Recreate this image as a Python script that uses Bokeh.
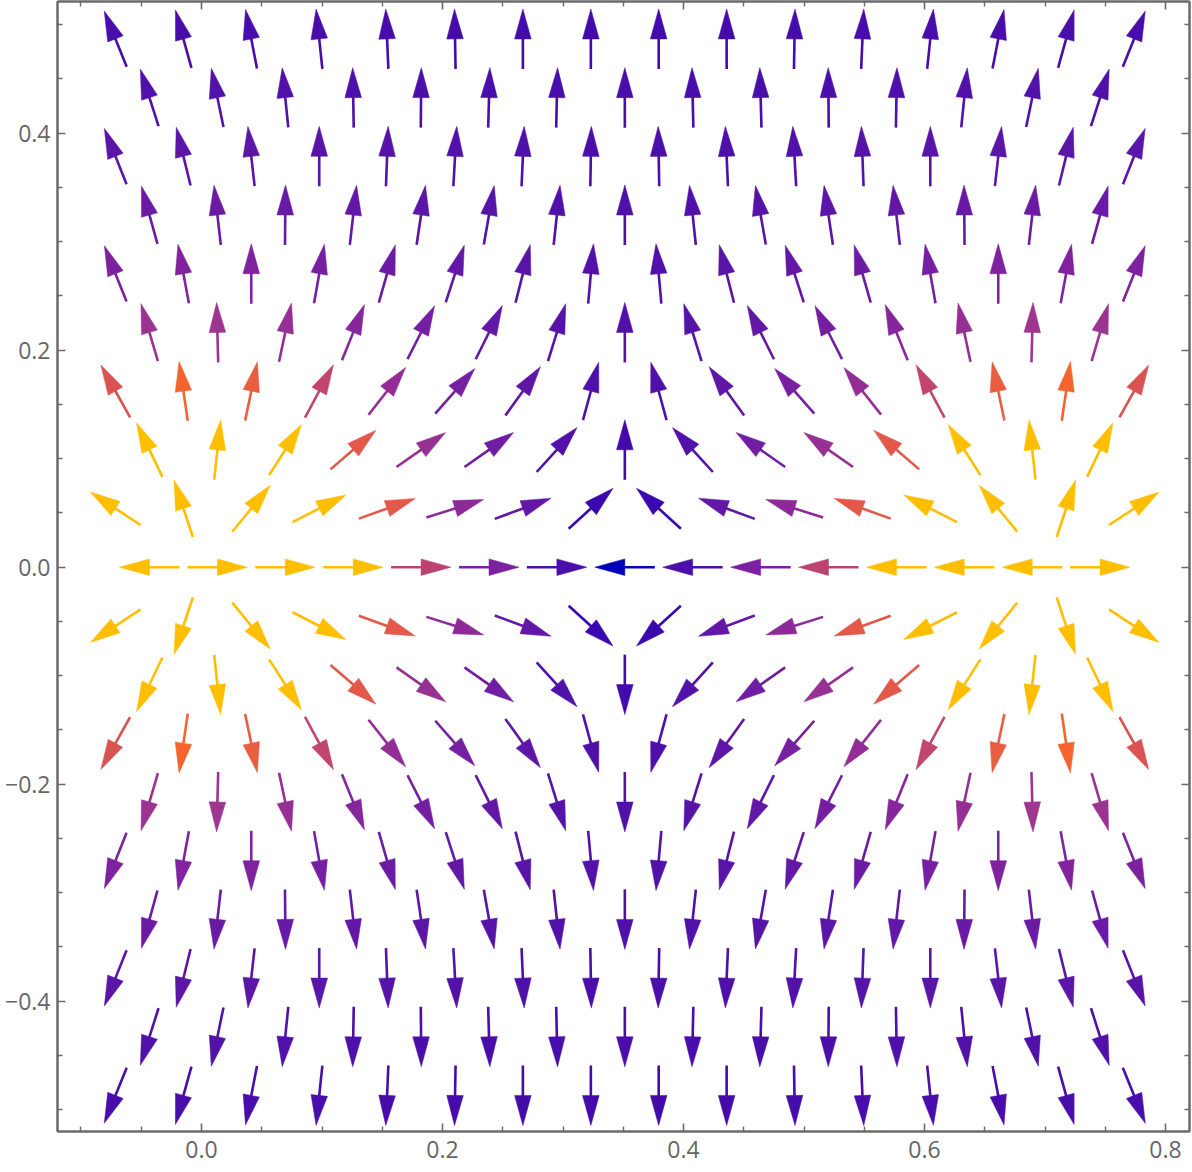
import math
from bokeh.plotting import figure
from bokeh.models import Range1d, FixedTicker, LinearAxis, ColumnDataSource, LinearColorMapper
from bokeh.transform import transform
from bokeh.embed import file_html
from bokeh.resources import INLINE

# ---------------- data ----------------
# arrow centres: staggered (hexagonal) grid
X_EVEN = [-0.0432, 0.0132, 0.0695, 0.1259, 0.1822, 0.2386, 0.2949, 0.3513,
          0.4076, 0.4640, 0.5203, 0.5767, 0.6330, 0.6894, 0.7457]
X_ODD = [-0.0714, -0.0150, 0.0413, 0.0977, 0.1540, 0.2104, 0.2667, 0.3231,
         0.3794, 0.4358, 0.4921, 0.5485, 0.6048, 0.6612, 0.7175, 0.7739]
ROW_Y = [0.4869, 0.4328, 0.3787, 0.3246, 0.2705, 0.2164, 0.1623, 0.1082, 0.0541, 0.0,
         -0.0541, -0.1082, -0.1623, -0.2164, -0.2705, -0.3246, -0.3787, -0.4328, -0.4869]

# arrow directions (degrees, screen orientation), one list per row, top to bottom
ANGLE_ROWS = [
    [112, 105.5, 101, 96, 92.5, 91, 90, 90, 90, 90, 89, 87.5, 84, 79, 74.5, 68],
    [107.7, 101.7, 95.8, 91, 89.5, 88.4, 88.7, 90, 91.3, 91.6, 90.5, 89, 84.2, 78.3, 72.3],
    [111.7, 103.8, 96.4, 90, 87.9, 86.8, 87.5, 89, 91, 92.5, 93.2, 92.1, 90, 83.6, 76.2, 68.3],
    [105.5, 96.5, 89.5, 83.5, 81.5, 80, 83.9, 90, 96.1, 100, 98.5, 96.5, 90.5, 83.5, 74.5],
    [111.7, 100.5, 90, 80, 74, 72, 75.8, 84.9, 95.1, 104.2, 108, 106, 100, 90, 79.5, 68.3],
    [106.4, 91.5, 78, 68, 63.2, 63.6, 72.8, 90, 107.2, 116.4, 116.8, 112, 102, 88.5, 73.6],
    [119.2, 98.3, 78.2, 61.7, 51.8, 48.7, 54.3, 74.8, 105.2, 125.7, 131.3, 128.3, 118.3, 101.8, 81.7, 60.8],
    [115.6, 83.8, 57.4, 40.7, 35, 35.1, 47.7, 90, 132.3, 144.9, 145, 139.3, 122.6, 96.2, 64.4],
    [146.6, 108.3, 50.7, 27, 19.7, 17.5, 20.2, 42.3, 137.7, 159.8, 162.5, 160.3, 153, 129.3, 71.7, 33.4],
    [180, 0, 0, 0, 0, 0, 0, 180, 180, 180, 180, 180, 180, 180, 0],
    [-146.6, -108.3, -50.7, -27, -19.7, -17.5, -20.2, -42.3, -137.7, -159.8, -162.5, -160.3, -153, -129.3, -71.7, -33.4],
    [-115.6, -83.8, -57.4, -40.7, -35, -35.1, -47.7, -90, -132.3, -144.9, -145, -139.3, -122.6, -96.2, -64.4],
    [-119.2, -98.3, -78.2, -61.7, -51.8, -48.7, -54.3, -74.8, -105.2, -125.7, -131.3, -128.3, -118.3, -101.8, -81.7, -60.8],
    [-106.4, -91.5, -78, -68, -63.2, -63.6, -72.8, -90, -107.2, -116.4, -116.8, -112, -102, -88.5, -73.6],
    [-111.7, -100.5, -90, -80, -74, -72, -75.8, -84.9, -95.1, -104.2, -108, -106, -100, -90, -79.5, -68.3],
    [-105.5, -96.5, -89.5, -83.5, -81.5, -80, -83.9, -90, -96.1, -100, -98.5, -96.5, -90.5, -83.5, -74.5],
    [-111.7, -103.8, -96.4, -90, -87.9, -86.8, -87.5, -89, -91, -92.5, -93.2, -92.1, -90, -83.6, -76.2, -68.3],
    [-107.7, -101.7, -95.8, -91, -89.5, -88.4, -88.7, -90, -91.3, -91.6, -90.5, -89, -84.2, -78.3, -72.3],
    [-112, -105.5, -101, -96, -92.5, -91, -90, -90, -90, -90, -89, -87.5, -84, -79, -74.5, -68],
]

# field strength (saturated yellow = strong)
STRENGTH_ROWS = [
    [5.0, 5.1, 5.1, 5.1, 4.9, 4.7, 4.6, 4.5, 4.5, 4.6, 4.7, 4.9, 5.1, 5.1, 5.1, 5.0],
    [6.2, 6.3, 6.1, 5.9, 5.6, 5.3, 5.1, 5.0, 5.1, 5.3, 5.6, 5.9, 6.1, 6.3, 6.2],
    [7.6, 7.8, 7.8, 7.4, 6.9, 6.3, 5.8, 5.6, 5.6, 5.8, 6.3, 6.9, 7.4, 7.8, 7.8, 7.6],
    [10.2, 10.3, 9.8, 8.9, 7.8, 6.9, 6.2, 6.0, 6.2, 6.9, 7.8, 8.9, 9.8, 10.3, 10.2],
    [13.7, 14.4, 14.0, 12.5, 10.5, 8.6, 7.2, 6.4, 6.4, 7.2, 8.6, 10.5, 12.5, 14.0, 14.4, 13.7],
    [21.4, 21.8, 19.5, 15.7, 11.9, 8.9, 6.9, 6.2, 6.9, 8.9, 11.9, 15.7, 19.5, 21.8, 21.4],
    [32.8, 38.3, 35.7, 27.3, 18.8, 12.5, 8.2, 6.0, 6.0, 8.2, 12.5, 18.8, 27.3, 35.7, 38.3, 32.8],
    [74, 84, 60, 34.5, 19.8, 11.4, 6.4, 4.4, 6.4, 11.4, 19.8, 34.5, 60, 84, 74],
    [125, 317, 216, 80, 34.5, 17.4, 8.7, 3.5, 3.5, 8.7, 17.4, 34.5, 80, 216, 317, 125],
    [536, 999, 207, 60, 26.4, 13.0, 5.4, 0.1, 5.4, 13.0, 26.4, 60, 207, 999, 536],
    [125, 317, 216, 80, 34.5, 17.4, 8.7, 3.5, 3.5, 8.7, 17.4, 34.5, 80, 216, 317, 125],
    [74, 84, 60, 34.5, 19.8, 11.4, 6.4, 4.4, 6.4, 11.4, 19.8, 34.5, 60, 84, 74],
    [32.8, 38.3, 35.7, 27.3, 18.8, 12.5, 8.2, 6.0, 6.0, 8.2, 12.5, 18.8, 27.3, 35.7, 38.3, 32.8],
    [21.4, 21.8, 19.5, 15.7, 11.9, 8.9, 6.9, 6.2, 6.9, 8.9, 11.9, 15.7, 19.5, 21.8, 21.4],
    [13.7, 14.4, 14.0, 12.5, 10.5, 8.6, 7.2, 6.4, 6.4, 7.2, 8.6, 10.5, 12.5, 14.0, 14.4, 13.7],
    [10.2, 10.3, 9.8, 8.9, 7.8, 6.9, 6.2, 6.0, 6.2, 6.9, 7.8, 8.9, 9.8, 10.3, 10.2],
    [7.6, 7.8, 7.8, 7.4, 6.9, 6.3, 5.8, 5.6, 5.6, 5.8, 6.3, 6.9, 7.4, 7.8, 7.8, 7.6],
    [6.2, 6.3, 6.1, 5.9, 5.6, 5.3, 5.1, 5.0, 5.1, 5.3, 5.6, 5.9, 6.1, 6.3, 6.2],
    [5.0, 5.1, 5.1, 5.1, 4.9, 4.7, 4.6, 4.5, 4.5, 4.6, 4.7, 4.9, 5.1, 5.1, 5.1, 5.0],
]

X_TICKS = [0.0, 0.2, 0.4, 0.6, 0.8]
X_LABELS = ["0.0", "0.2", "0.4", "0.6", "0.8"]
X_MINOR = [-0.1, -0.05, 0.05, 0.1, 0.15, 0.25, 0.3, 0.35, 0.45, 0.5, 0.55, 0.65, 0.7, 0.75]
Y_TICKS = [-0.4, -0.2, 0.0, 0.2, 0.4]
Y_LABELS = ["\u22120.4", "\u22120.2", "0.0", "0.2", "0.4"]
Y_MINOR = [-0.5, -0.45, -0.35, -0.3, -0.25, -0.15, -0.1, -0.05, 0.05, 0.1, 0.15,
           0.25, 0.3, 0.35, 0.45, 0.5]

# ---------------- styling ----------------
XMIN, XMAX = -0.1195, 0.8199
YMIN, YMAX = -0.5201, 0.5214
FRAME_W, FRAME_H = 1132, 1130
ARROW_PX, HEAD_PX, HEAD_HALF_PX = 60.0, 30.0, 8.3
FRAME_COL = "#6b6b6b"
LABEL_COL = "#666666"

STOPS = [(0.0, "#0000b8"), (3.5, "#3a08ae"), (4.5, "#440bab"), (5.5, "#4c0eaa"),
         (7.0, "#5713a8"), (9.0, "#6418a6"), (11.0, "#6e1ca4"), (13.0, "#7a20a0"),
         (17.5, "#8e2a98"), (21.5, "#9c3490"), (27.0, "#c0446e"), (33.0, "#da5452"),
         (35.0, "#e55a47"), (36.5, "#ec5f3c"), (38.5, "#f4652c"), (40.0, "#f4662a")]
HIGH = 40.0


def hex2rgb(h):
    return tuple(int(h[i:i + 2], 16) for i in (1, 3, 5))


def build_palette(n=256):
    pal = []
    for i in range(n):
        v = HIGH * i / (n - 1)
        for (v0, c0), (v1, c1) in zip(STOPS[:-1], STOPS[1:]):
            if v0 <= v <= v1:
                t = 0 if v1 == v0 else (v - v0) / (v1 - v0)
                a, b = hex2rgb(c0), hex2rgb(c1)
                rgb = [round(a[k] + (b[k] - a[k]) * t) for k in range(3)]
                pal.append("#%02x%02x%02x" % tuple(rgb))
                break
    return pal


mapper = LinearColorMapper(palette=build_palette(), low=0.0, high=HIGH, high_color="#ffbf00")

sx = FRAME_W / (XMAX - XMIN)
sy = FRAME_H / (YMAX - YMIN)

cols = dict(x0=[], y0=[], x1=[], y1=[], hx=[], hy=[], s=[])
for i, (yc, angs, strs) in enumerate(zip(ROW_Y, ANGLE_ROWS, STRENGTH_ROWS)):
    xs = X_ODD if i % 2 == 0 else X_EVEN
    for xc, a, s in zip(xs, angs, strs):
        r = math.radians(a)
        ux, uy = math.cos(r), math.sin(r)
        half = ARROW_PX / 2
        tipx, tipy = xc + ux * half / sx, yc + uy * half / sy
        tailx, taily = xc - ux * half / sx, yc - uy * half / sy
        bx, by = tipx - ux * HEAD_PX / sx, tipy - uy * HEAD_PX / sy
        cols["x0"].append(tailx)
        cols["y0"].append(taily)
        cols["x1"].append(bx + ux * 3 / sx)
        cols["y1"].append(by + uy * 3 / sy)
        cols["hx"].append([tipx, bx - uy * HEAD_HALF_PX / sx, bx + uy * HEAD_HALF_PX / sx])
        cols["hy"].append([tipy, by + ux * HEAD_HALF_PX / sy, by - ux * HEAD_HALF_PX / sy])
        cols["s"].append(s)

src = ColumnDataSource(cols)

p = figure(width=1192, height=1172, output_backend="svg", toolbar_location=None,
           x_range=Range1d(XMIN, XMAX), y_range=Range1d(YMIN, YMAX),
           min_border_left=57, min_border_right=3, min_border_top=1, min_border_bottom=41)
p.grid.visible = False
p.background_fill_color = "white"
p.border_fill_color = "white"
p.outline_line_color = FRAME_COL
p.outline_line_width = 2

p.segment("x0", "y0", "x1", "y1", source=src, line_color=transform("s", mapper),
          line_width=2.6, line_cap="butt")
p.patches("hx", "hy", source=src, fill_color=transform("s", mapper),
          line_color=transform("s", mapper), line_width=0.5)


def style_axis(ax, ticks, minor, labels, show_labels, standoff):
    ax.ticker = FixedTicker(ticks=ticks, minor_ticks=minor)
    ax.axis_line_color = FRAME_COL
    ax.axis_line_width = 2
    ax.major_tick_line_color = FRAME_COL
    ax.minor_tick_line_color = FRAME_COL
    ax.major_tick_line_width = 1.6
    ax.minor_tick_line_width = 1.4
    ax.major_tick_in = 8
    ax.major_tick_out = 0
    ax.minor_tick_in = 5
    ax.minor_tick_out = 0
    if show_labels:
        ax.major_label_overrides = {t: l for t, l in zip(ticks, labels)}
        ax.major_label_text_font = "Open Sans"
        ax.major_label_text_font_size = "23px"
        ax.major_label_text_color = LABEL_COL
        ax.major_label_standoff = standoff
    else:
        ax.major_label_text_font_size = "0px"
        ax.major_label_text_color = None
        ax.major_label_standoff = 0


style_axis(p.xaxis[0], X_TICKS, X_MINOR, X_LABELS, True, 9)
style_axis(p.yaxis[0], Y_TICKS, Y_MINOR, Y_LABELS, True, 7)
top = LinearAxis()
right = LinearAxis()
style_axis(top, X_TICKS, X_MINOR, X_LABELS, False, 0)
style_axis(right, Y_TICKS, Y_MINOR, Y_LABELS, False, 0)
p.add_layout(top, "above")
p.add_layout(right, "right")

open("out.html", "w").write(file_html(p, INLINE))
